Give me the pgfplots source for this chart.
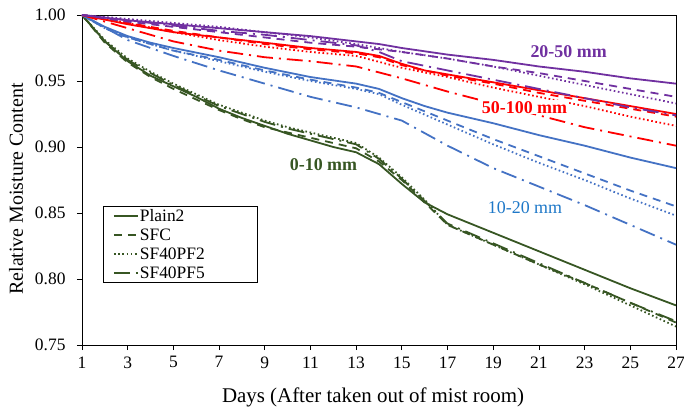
\documentclass[border=0pt]{standalone}
\usepackage{fontspec}
\setmainfont{Liberation Serif}
\usepackage{pgfplots}
\pgfplotsset{compat=1.18}
\definecolor{cgreen}{RGB}{55,86,35}
\definecolor{cblue}{RGB}{68,114,196}
\definecolor{cpurple}{RGB}{112,48,160}
\definecolor{cred}{RGB}{255,0,0}
\definecolor{clblue}{RGB}{30,120,200}
\newcommand{\legtxt}[1]{\makebox[106bp][l]{#1}}
\begin{document}
\begin{tikzpicture}
\useasboundingbox (-82bp,-66bp) rectangle (602bp,345bp);
\begin{axis}[
  at={(0,0)}, anchor=south west,
  scale only axis, width=594bp, height=330bp,
  xmin=1, xmax=27, ymin=0.75, ymax=1.00,
  xtick={1,3,...,27},
  ytick={0.75,0.80,...,1.001},
  yticklabel style={xshift=-8bp, /pgf/number format/.cd, fixed, fixed zerofill, precision=2},
  /pgf/number format/assume math mode=true,
  tick align=outside, xtick pos=bottom, ytick pos=left,
  major tick length=5bp,
  tick style={black, line width=0.8pt},
  axis line style={line width=0.8pt},
  ticklabel style={font=\fontsize{17.5}{17.5}\selectfont},
  xticklabel style={yshift=-3bp},
  xlabel={Days (After taken out of mist room)},
  ylabel={Relative Moisture Content},
  xlabel style={font=\fontsize{21}{21}\selectfont, at={(axis description cs:0.49,0)}, anchor=center, yshift=-52bp},
  ylabel style={font=\fontsize{20}{20}\selectfont, at={(axis description cs:-0.111,0.473)}, anchor=center},
  legend style={at={(0.035,0.421)}, anchor=north west, draw=black, line width=0.6pt,
    font=\fontsize{17.5}{17.5}\selectfont, row sep=3.8bp, inner xsep=10bp, inner ysep=2bp,
    nodes={inner xsep=1bp, inner ysep=1bp}, cells={anchor=west}},
  legend image code/.code={\draw[#1] (0bp,0bp) -- (24bp,0bp);},
  every axis plot/.append style={line width=1.8bp},
  sd/.style={dash pattern=on 8bp off 6bp},
  sdot/.style={dash pattern=on 1.6bp off 2.6bp},
  sdd/.style={dash pattern=on 16bp off 6bp on 2bp off 6bp},
]
% ---- 0-10 mm (green)
\addplot[cgreen] coordinates {(1,1.000)(2,0.980)(3,0.965)(4,0.954)(5,0.946)(6,0.938)(7,0.929)(8,0.922)(9,0.916)(10,0.910)(11,0.905)(12,0.900)(13,0.896)(14,0.887)(15,0.872)(16,0.858)(17,0.849)(19,0.835)(21,0.821)(23,0.807)(25,0.793)(27,0.780)};
\addlegendentry{\legtxt{Plain2}}
\addplot[cgreen, sd] coordinates {(1,1.000)(2,0.979)(3,0.964)(4,0.953)(5,0.944)(6,0.936)(7,0.928)(8,0.921)(9,0.915)(10,0.911)(11,0.907)(12,0.903)(13,0.899)(14,0.889)(15,0.875)(16,0.858)(17,0.841)(19,0.826)(21,0.811)(23,0.797)(25,0.782)(27,0.767)};
\addlegendentry{\legtxt{SFC}}
\addplot[cgreen, sdot] coordinates {(1,1.000)(2,0.981)(3,0.967)(4,0.957)(5,0.948)(6,0.940)(7,0.932)(8,0.926)(9,0.920)(10,0.915)(11,0.911)(12,0.907)(13,0.903)(14,0.892)(15,0.877)(16,0.860)(17,0.841)(19,0.826)(21,0.811)(23,0.796)(25,0.780)(27,0.764)};
\addlegendentry{\legtxt{SF40PF2}}
\addplot[cgreen, sdd] coordinates {(1,1.000)(2,0.980)(3,0.966)(4,0.956)(5,0.947)(6,0.939)(7,0.931)(8,0.925)(9,0.919)(10,0.914)(11,0.910)(12,0.906)(13,0.902)(14,0.891)(15,0.876)(16,0.859)(17,0.842)(19,0.827)(21,0.812)(23,0.797)(25,0.782)(27,0.768)};
\addlegendentry{\legtxt{SF40PF5}}
% ---- 10-20 mm (blue)
\addplot[cblue, forget plot] coordinates {(1,1.000)(2,0.991)(3,0.984)(4,0.979)(5,0.975)(7,0.968)(9,0.960)(11,0.953)(13,0.948)(14,0.944)(15,0.937)(16,0.931)(17,0.926)(19,0.918)(21,0.909)(23,0.901)(25,0.892)(27,0.884)};
\addplot[cblue, sd, forget plot] coordinates {(1,1.000)(2,0.990)(3,0.983)(5,0.973)(7,0.966)(9,0.958)(11,0.951)(13,0.945)(14,0.941)(15,0.934)(17,0.920)(19,0.906)(21,0.893)(23,0.880)(25,0.867)(27,0.855)};
\addplot[cblue, sdot, forget plot] coordinates {(1,1.000)(2,0.990)(3,0.983)(5,0.973)(7,0.965)(9,0.957)(11,0.950)(13,0.944)(14,0.940)(15,0.932)(17,0.917)(19,0.902)(21,0.888)(23,0.875)(25,0.861)(27,0.848)};
\addplot[cblue, sdd, forget plot] coordinates {(1,1.000)(3,0.981)(5,0.969)(7,0.958)(9,0.948)(11,0.938)(13,0.930)(15,0.920)(17,0.901)(19,0.884)(21,0.870)(23,0.856)(25,0.841)(27,0.826)};
% ---- 50-100 mm (red)
\addplot[cred, forget plot] coordinates {(1,1.000)(3,0.993)(5,0.987)(7,0.983)(9,0.979)(11,0.975)(13,0.972)(14,0.969)(15,0.963)(16,0.958)(17,0.955)(19,0.949)(21,0.943)(23,0.937)(25,0.931)(27,0.925)};
\addplot[cred, sd, forget plot] coordinates {(1,1.000)(3,0.994)(5,0.988)(7,0.983)(9,0.978)(11,0.974)(13,0.971)(14,0.968)(15,0.962)(17,0.954)(19,0.948)(21,0.941)(23,0.935)(25,0.929)(27,0.923)};
\addplot[cred, sdot, forget plot] coordinates {(1,1.000)(3,0.994)(5,0.987)(7,0.981)(9,0.976)(11,0.972)(13,0.969)(15,0.960)(17,0.953)(19,0.945)(21,0.938)(23,0.931)(25,0.923)(27,0.916)};
\addplot[cred, sdd, forget plot] coordinates {(1,1.000)(3,0.990)(5,0.980)(7,0.973)(9,0.968)(11,0.965)(13,0.961)(15,0.952)(17,0.942)(19,0.933)(21,0.924)(23,0.915)(25,0.908)(27,0.901)};
% ---- 20-50 mm (purple)
\addplot[cpurple, forget plot] coordinates {(1,1.000)(3,0.996)(5,0.993)(7,0.990)(9,0.987)(11,0.984)(13,0.980)(14,0.978)(15,0.975)(17,0.970)(19,0.966)(21,0.961)(23,0.957)(25,0.952)(27,0.948)};
\addplot[cpurple, sd, forget plot] coordinates {(1,1.000)(3,0.995)(5,0.991)(7,0.987)(9,0.983)(11,0.979)(13,0.976)(15,0.972)(17,0.967)(19,0.961)(21,0.956)(23,0.950)(25,0.944)(27,0.938)};
\addplot[cpurple, sdot, forget plot] coordinates {(1,1.000)(3,0.997)(5,0.994)(7,0.991)(9,0.987)(11,0.983)(13,0.978)(15,0.972)(17,0.967)(19,0.961)(21,0.954)(23,0.947)(25,0.940)(27,0.933)};
\addplot[cpurple, sdd, forget plot] coordinates {(1,1.000)(3,0.996)(5,0.992)(7,0.988)(9,0.985)(11,0.981)(13,0.977)(14,0.972)(15,0.965)(17,0.958)(19,0.951)(21,0.944)(23,0.937)(25,0.930)(27,0.924)};
% ---- annotations
\node[text=cpurple, font=\fontsize{18}{18}\selectfont\bfseries] at (axis cs:22.3,0.972) {20-50 mm};
\node[text=cred, fill=white, inner sep=1bp, font=\fontsize{18}{18}\selectfont\bfseries] at (axis cs:20.37,0.930) {50-100 mm};
\node[text=clblue, font=\fontsize{18}{18}\selectfont] at (axis cs:20.39,0.854) {10-20 mm};
\node[text=cgreen, font=\fontsize{18}{18}\selectfont\bfseries] at (axis cs:11.57,0.8867) {0-10 mm};
\end{axis}
\end{tikzpicture}
\end{document}
